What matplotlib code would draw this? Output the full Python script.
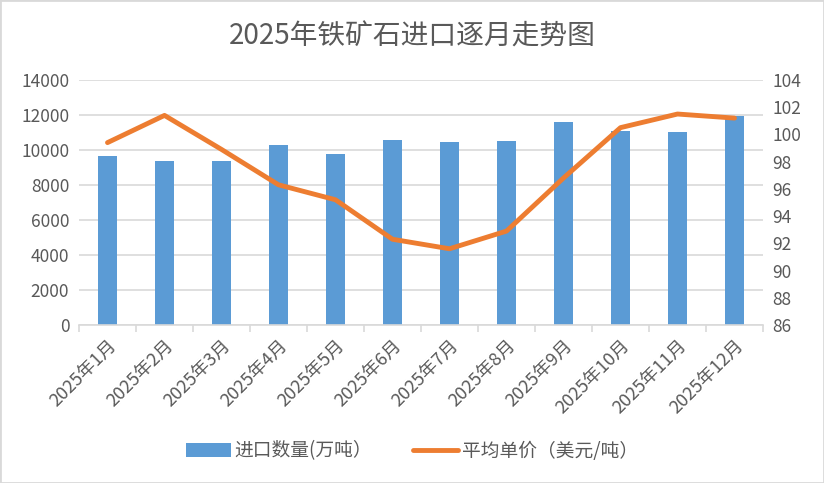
import matplotlib.pyplot as plt
from matplotlib.patches import Rectangle

plt.rcParams['font.family'] = ['Noto Sans CJK SC', 'DejaVu Sans']

months = ['2025年1月', '2025年2月', '2025年3月', '2025年4月', '2025年5月', '2025年6月',
          '2025年7月', '2025年8月', '2025年9月', '2025年10月', '2025年11月', '2025年12月']
import_qty = [9650, 9360, 9360, 10280, 9770, 10570, 10450, 10510, 11600, 11080, 11020, 11940]
avg_price = [99.4, 101.4, 98.9, 96.3, 95.2, 92.3, 91.6, 92.9, 96.8, 100.5, 101.5, 101.2]
left_ticks = [0, 2000, 4000, 6000, 8000, 10000, 12000, 14000]
right_ticks = [86, 88, 90, 92, 94, 96, 98, 100, 102, 104]

text_color = '#595959'
grid_color = '#d9d9d9'

fig = plt.figure(figsize=(8.24, 4.83), dpi=100)
ax = fig.add_axes([79 / 824, 1 - 325 / 483, (763 - 79) / 824, (325 - 80) / 483])
ax2 = ax.twinx()

x = list(range(len(months)))
bars = ax.bar(x, import_qty, width=0.32, color='#5b9bd5', label='进口数量(万吨）', zorder=2)
line, = ax2.plot(x, avg_price, color='#ed7d31', linewidth=3.5, solid_capstyle='round',
                 label='平均单价（美元/吨）', zorder=3)

ax.set_xlim(-0.5, len(months) - 0.5)
ax.set_ylim(0, 14000)
ax.set_yticks(left_ticks)
ax2.set_ylim(86, 104)
ax2.set_yticks(right_ticks)

ax.yaxis.grid(True, color=grid_color, linewidth=1.2, zorder=0)
ax.set_axisbelow(True)

for a in (ax, ax2):
    for side in ('top', 'left', 'right', 'bottom'):
        a.spines[side].set_visible(False)
    a.tick_params(axis='y', length=0, labelsize=12.5, labelcolor=text_color, pad=7)

ax.spines['bottom'].set_visible(True)
ax.spines['bottom'].set_color(grid_color)
ax.spines['bottom'].set_linewidth(1.2)

# category boundary ticks
ax.set_xticks([i - 0.5 for i in range(len(months) + 1)], minor=True)
ax.tick_params(axis='x', which='minor', length=5, color=grid_color, width=1.2)
ax.set_xticks(x)
ax.set_xticklabels(months, rotation=45, ha='right', rotation_mode='anchor',
                   fontsize=13, color=text_color)
ax.tick_params(axis='x', which='major', length=0, pad=8)

fig.text(0.5, 1 - 37 / 483, '2025年铁矿石进口逐月走势图', ha='center', va='center',
         fontsize=20, color=text_color)

fig.legend([bars, line], ['进口数量(万吨）', '平均单价（美元/吨）'], loc='center',
           bbox_to_anchor=(0.5, 1 - 451 / 483), ncol=2, frameon=False, fontsize=13.5,
           labelcolor=text_color, handlelength=2.4, columnspacing=2.2, handletextpad=0.2)

fig.patches.append(Rectangle((0, 0), 1, 1, transform=fig.transFigure, fill=False,
                             edgecolor='#d9d9d9', linewidth=2))

fig.savefig('out.png', dpi=100)
